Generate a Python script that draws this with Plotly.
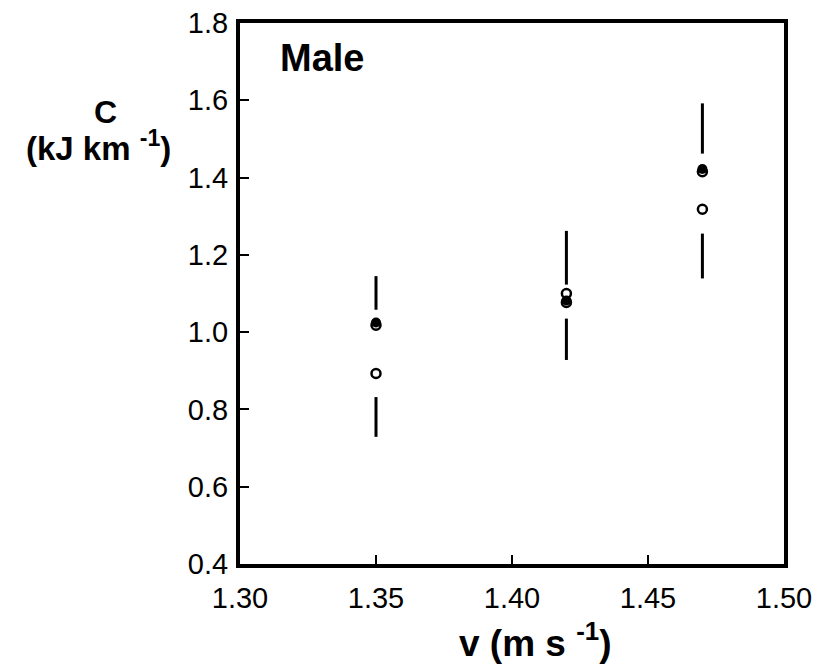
import plotly.graph_objects as go

# Data
speed = [1.35, 1.42, 1.47]
filled_c = [1.025, 1.082, 1.422]
open_c_a = [1.018, 1.077, 1.415]
open_c_b = [0.893, 1.100, 1.318]
upper_hi = [1.145, 1.262, 1.592]
upper_lo = [1.058, 1.123, 1.462]
lower_hi = [0.832, 1.035, 1.255]
lower_lo = [0.729, 0.928, 1.139]

x_ticks = [1.30, 1.35, 1.40, 1.45, 1.50]
x_tick_text = ["1.30", "1.35", "1.40", "1.45", "1.50"]
y_ticks = [0.4, 0.6, 0.8, 1.0, 1.2, 1.4, 1.6, 1.8]
y_tick_text = ["0.4", "0.6", "0.8", "1.0", "1.2", "1.4", "1.6", "1.8"]

FONT = "Liberation Sans, Arial, sans-serif"

seg_x, seg_y = [], []
for xv, a, b, c, d in zip(speed, upper_hi, upper_lo, lower_hi, lower_lo):
    seg_x += [xv, xv, None, xv, xv, None]
    seg_y += [a, b, None, c, d, None]

fig = go.Figure()
fig.add_trace(go.Scatter(x=seg_x, y=seg_y, mode="lines",
                         line=dict(color="black", width=3), hoverinfo="skip",
                         showlegend=False))
fig.add_trace(go.Scatter(x=speed, y=open_c_a, mode="markers", showlegend=False,
                         marker=dict(symbol="circle-open", size=9, color="black",
                                     line=dict(width=2.5, color="black"))))
fig.add_trace(go.Scatter(x=speed, y=filled_c, mode="markers", showlegend=False,
                         marker=dict(symbol="circle", size=10, color="black",
                                     line=dict(width=0))))
fig.add_trace(go.Scatter(x=speed, y=open_c_b, mode="markers", showlegend=False,
                         marker=dict(symbol="circle-open", size=9, color="black",
                                     line=dict(width=2.5, color="black"))))

# page has an 8px body margin; target plot area in screen pixels
plot_l, plot_r, plot_t, plot_b = 240, 784, 23, 564
OFF = 8

def pap(px, py):
    return (px - plot_l) / (plot_r - plot_l), (plot_b - py) / (plot_b - plot_t)

def ann(text, px, py, size):
    x, y = pap(px, py)
    return dict(text=text, x=x, y=y, xref="paper", yref="paper",
                xanchor="center", yanchor="middle", showarrow=False,
                font=dict(family=FONT, size=size, color="black"))

fig.update_layout(
    template="none",
    width=825, height=664,
    margin=dict(l=plot_l - OFF, r=825 - (plot_r - OFF), t=plot_t - OFF,
                b=664 - (plot_b - OFF), autoexpand=False),
    plot_bgcolor="white", paper_bgcolor="white",
    font=dict(family=FONT, size=20, color="black"),
    xaxis=dict(range=[1.30, 1.50], tickvals=x_ticks, ticktext=x_tick_text,
               automargin=False,
               showgrid=False, zeroline=False, showline=True, linecolor="black",
               linewidth=4, mirror=True, ticks="inside", ticklen=9, tickwidth=2,
               tickcolor="black", ticklabelstandoff=5, ticklabeloverflow="allow",
               tickfont=dict(family=FONT, size=29)),
    yaxis=dict(range=[0.4, 1.8], tickvals=y_ticks, ticktext=y_tick_text,
               automargin=False,
               showgrid=False, zeroline=False, showline=True, linecolor="black",
               linewidth=4, mirror=True, ticks="inside", ticklen=9, tickwidth=2,
               tickcolor="black", ticklabelstandoff=2, ticklabeloverflow="allow",
               tickfont=dict(family=FONT, size=29)),
    annotations=[
        ann("<b>Male</b>", 322, 58, 38),
        ann("<b>C</b>", 105, 112, 32),
        ann("<b>(kJ km <sup>-1</sup>)</b>", 98, 146, 33),
        ann("<b>v (m s <sup>-1</sup>)</b>", 535, 640, 37),
    ],
)

fig.write_html("out.html")
